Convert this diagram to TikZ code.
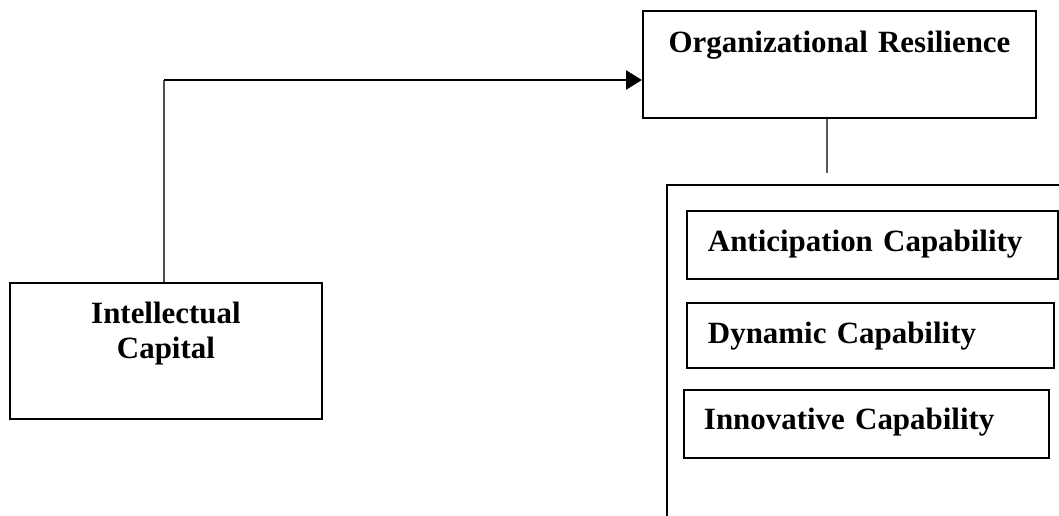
\documentclass[tikz,border=0pt]{standalone}
\usepackage{fontspec}
\setmainfont{Liberation Serif}
\usetikzlibrary{positioning}
\usetikzlibrary{calc}
\usetikzlibrary{arrows.meta}

\begin{document}
\begin{tikzpicture}[>={Triangle[length=0.32cm,width=0.38cm]}]
	\tikzset{block/.style = {shape=rectangle, draw, line width=1.1pt, inner sep=0pt, align=center, anchor=north west, font=\fontsize{17.6}{19.9}\selectfont\bfseries}}
	\tikzset{capbox/.style = {block, align=left, inner xsep=0.42cm}}
	\useasboundingbox (0,0) rectangle (21.18,-10.30);
	
	\node[block, text width=7.86cm, text height=0.84cm, text depth=1.30cm] (RESIL) at (12.84,-0.20) {Organizational Resilience};
	\node[block, text width=6.24cm, text height=0.82cm, text depth=1.90cm] (INTEL) at (0.18,-5.64) {Intellectual\\ Capital};
	
	\node[draw, line width=1.1pt, anchor=north west, minimum width=9cm, minimum height=8cm] (GROUP) at (13.32,-3.68) {};
	\node[capbox, text width=6.58cm, text height=0.82cm, text depth=0.54cm] (ANTIC) at (13.72,-4.20) {Anticipation Capability};
	\node[capbox, text width=6.50cm, text height=0.82cm, text depth=0.48cm] (DYNAM) at (13.72,-6.04) {Dynamic Capability};
	\node[capbox, inner xsep=0.40cm, text width=6.50cm, text height=0.80cm, text depth=0.56cm] (INNOV) at (13.66,-7.78) {Innovative Capability};
	
	\coordinate (BEND) at (3.28,-1.60);
	\coordinate (GTOP) at (16.54,-3.46);
	\draw[gray!60!black, line width=1pt] (INTEL.north -| BEND) -- (BEND);
	\draw[->, line width=1.6pt] (BEND) -- (RESIL.west |- BEND);
	\draw[gray!70!black, line width=0.6pt] (RESIL.south -| GTOP) -- (GTOP);
\end{tikzpicture}
\end{document}
